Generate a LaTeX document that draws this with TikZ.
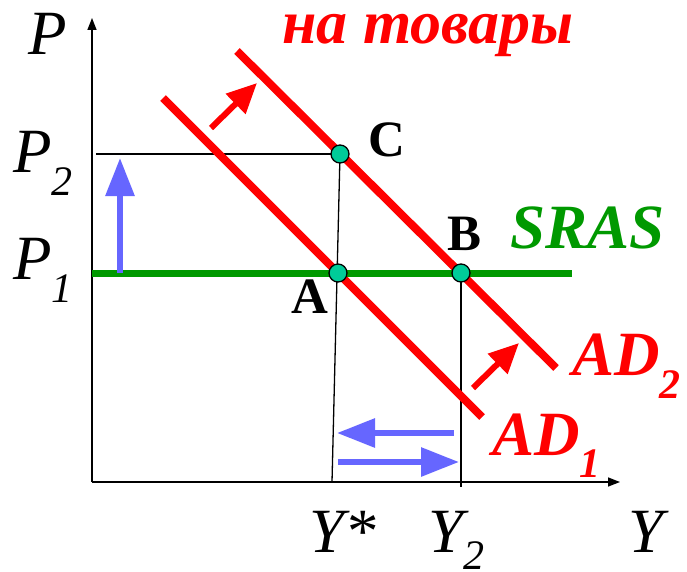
\documentclass[tikz,border=0pt]{standalone}
\usepackage{fontspec}
\setmainfont{Liberation Serif}[BoldItalicFont={Liberation Serif Bold Italic}]
\usetikzlibrary{arrows.meta}
\definecolor{adred}{HTML}{FF0000}
\definecolor{srasgreen}{HTML}{009900}
\definecolor{shiftblue}{HTML}{6666FF}
\definecolor{dotteal}{HTML}{00CC99}
\newcommand{\subidx}[2][22pt]{\raisebox{-#1}{\fontsize{42}{42}\selectfont #2}}
\tikzset{
  axis/.style={line width=1.5pt, -{Triangle[length=12pt,width=9pt]}},
  guide/.style={line width=1.3pt},
  adcurve/.style={adred, line width=8pt},
  shiftarrow/.style={shiftblue, line width=6pt, -{Triangle[length=38pt,width=28pt]}},
  pusharrow/.style={adred, line width=6pt, -{Triangle[length=30pt,width=27pt]}},
  eqpoint/.style={circle, draw, fill=dotteal, line width=1.3pt, minimum size=18pt, inner sep=0pt},
  lbl/.style={inner sep=0pt, anchor=base west},
  axislabel/.style={lbl, font=\fontsize{63}{63}\selectfont\itshape},
  ptlabel/.style={lbl, font=\fontsize{51}{51}\selectfont\bfseries},
  curvelabel/.style={lbl, font=\fontsize{63}{63}\selectfont\bfseries\itshape},
}
\begin{document}
\begin{tikzpicture}[x=1pt, y=-1pt]
    \useasboundingbox (0,0) rectangle (687,572);
    % Axes
    \coordinate (O) at (92,482);
    \coordinate (ytop) at (92,18);
    \coordinate (xtip) at (620,482);
    \draw[axis] (O) -- (ytop);
    \draw[axis] (O) -- (xtip);
    % Equilibrium points
    \coordinate (A) at (338,273);
    \coordinate (B) at (461,273);
    \coordinate (C) at (340,154);
    % Guide lines
    \coordinate (p2) at (96,154);
    \coordinate (ystar) at (332,482);
    \coordinate (y2) at (461,487);
    \draw[guide] (p2) -- (C);
    \draw[guide] (C) -- (ystar);
    \draw[guide] (B) -- (y2);
    % AD1 and AD2
    \draw[adcurve] (163,98) -- (482,417);
    \draw[adcurve] (237,51) -- (556,368);
    % SRAS (horizontal)
    \draw[srasgreen, line width=7pt] (92,273) -- (572,273);
    % Shift arrows
    \draw[pusharrow] (211,128) -- (257,83);
    \draw[pusharrow] (473,388) -- (519,343);
    \draw[shiftarrow] (120,273) -- (120,158);
    \draw[shiftarrow] (454,433) -- (337,433);
    \draw[shiftarrow] (338,462) -- (459,462);
    % Points
    \foreach \pt in {A,B,C}
        \node[eqpoint] at (\pt) {};
    % Labels
    \node[axislabel] (lP) at (28,55) {P};
    \node[axislabel] (lP2) at (13,172) {P\subidx[23pt]{2}};
    \node[axislabel] (lP1) at (13,279) {P\subidx[23pt]{1}};
    \node[axislabel] (lYs) at (309,552) {Y*};
    \node[axislabel] (lY2) at (428,552) {Y\subidx[17pt]{2}};
    \node[axislabel] (lY) at (628,552) {Y};
    \node[ptlabel] (lA) at (291,313) {A};
    \node[ptlabel] (lB) at (447,250) {B};
    \node[ptlabel] (lC) at (368,157) {C};
    \node[curvelabel, srasgreen] (lSRAS) at (510,248) {SRAS};
    \node[curvelabel, adred] (lAD1) at (492,455) {AD\subidx{1}};
    \node[curvelabel, adred] (lAD2) at (572,375) {AD\subidx[23pt]{2}};
    \node[curvelabel, adred, font=\fontsize{62}{62}\selectfont\bfseries\itshape] (ltitle) at (282,44) {на товары};
\end{tikzpicture}
\end{document}
